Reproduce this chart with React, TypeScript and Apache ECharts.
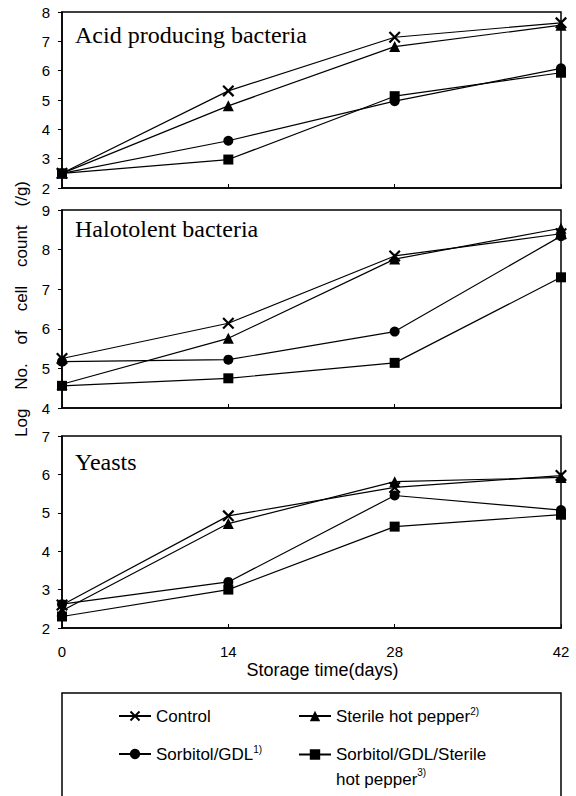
import React, { useEffect, useRef } from "react";
import * as echarts from "echarts";

const days = [0, 14, 28, 42];
const dayTicks = ["0", "14", "28", "42"];
const seriesNames = [
  "Control",
  "Sterile hot pepper",
  "Sorbitol/GDL",
  "Sorbitol/GDL/Sterile hot pepper",
];
const panelTitles = ["Acid producing bacteria", "Halotolent bacteria", "Yeasts"];
const yAxisTitle = "Log    No.    of    cell    count    (/g)";
const xAxisTitle = "Storage time(days)";

// Acid producing bacteria
const acidControl = [2.5, 5.31, 7.14, 7.63];
const acidSterile = [2.5, 4.8, 6.82, 7.55];
const acidSorbitol = [2.5, 3.61, 4.96, 6.08];
const acidSorbitolSterile = [2.5, 2.97, 5.13, 5.93];

// Halotolent bacteria
const haloControl = [5.25, 6.14, 7.84, 8.4];
const haloSterile = [4.6, 5.76, 7.76, 8.54];
const haloSorbitol = [5.17, 5.22, 5.93, 8.34];
const haloSorbitolSterile = [4.56, 4.75, 5.14, 7.3];

// Yeasts
const yeastControl = [2.6, 4.92, 5.66, 5.97];
const yeastSterile = [2.45, 4.72, 5.81, 5.92];
const yeastSorbitol = [2.62, 3.2, 5.45, 5.07];
const yeastSorbitolSterile = [2.3, 3.0, 4.64, 4.95];

const yRanges = [
  [2, 8],
  [4, 9],
  [2, 7],
];

const panelData = [
  [acidControl, acidSterile, acidSorbitol, acidSorbitolSterile],
  [haloControl, haloSterile, haloSorbitol, haloSorbitolSterile],
  [yeastControl, yeastSterile, yeastSorbitol, yeastSorbitolSterile],
];

const X_SYMBOL = "path://M0,1.3L1.3,0L10,8.7L8.7,10ZM8.7,0L10,1.3L1.3,10L0,8.7Z";
const symbols = [X_SYMBOL, "triangle", "circle", "rect"];
const symbolSizes = [12, 11, 10, 10];

const legendLabels: Record<string, string> = {
  Control: "Control",
  "Sterile hot pepper": "Sterile hot pepper{sup|2)}",
  "Sorbitol/GDL": "Sorbitol/GDL{sup|1)}",
  "Sorbitol/GDL/Sterile hot pepper": "Sorbitol/GDL/Sterile\nhot pepper{sup|3)}",
};

export default function App() {
  const ref = useRef<HTMLDivElement>(null);
  useEffect(() => {
    if (!ref.current) return;
    const chart = echarts.init(ref.current, undefined, { renderer: "svg" });

    const grids = [
      { left: 62, right: 15, top: 12, height: 176 },
      { left: 62, right: 15, top: 210, height: 198 },
      { left: 62, right: 15, top: 436, height: 192 },
    ].map((g) => ({
      ...g,
      show: true,
      borderColor: "#000",
      borderWidth: 1.5,
      backgroundColor: "transparent",
    }));

    const sans = "Liberation Sans, Arial, sans-serif";
    const serif = "Liberation Serif, Times New Roman, serif";

    const xAxes = grids.map((_, i) => ({
      type: "value",
      gridIndex: i,
      min: 0,
      max: 42,
      interval: 14,
      axisLine: { show: true, lineStyle: { color: "#000", width: 1.5 } },
      axisTick: { show: true, inside: true, length: 4, lineStyle: { color: "#000", width: 1 } },
      splitLine: { show: false },
      axisLabel: {
        show: i === 2,
        color: "#000",
        fontSize: 15,
        fontFamily: sans,
        margin: 16,
        formatter: (v: number) => dayTicks[days.indexOf(v)] ?? String(v),
      },
      ...(i === 2
        ? {
            name: xAxisTitle,
            nameLocation: "middle",
            nameGap: 33,
            nameTextStyle: {
              color: "#000",
              fontSize: 18,
              fontFamily: sans,
              padding: [0, 0, 0, 22],
            },
          }
        : {}),
    }));

    const yAxes = grids.map((_, i) => ({
      type: "value",
      gridIndex: i,
      min: yRanges[i][0],
      max: yRanges[i][1],
      interval: 1,
      axisLine: { show: true, lineStyle: { color: "#000", width: 1.5 } },
      axisTick: { show: true, inside: false, length: 4, lineStyle: { color: "#000", width: 1 } },
      splitLine: { show: false },
      axisLabel: { color: "#000", fontSize: 15, fontFamily: sans, margin: 12 },
      ...(i === 1
        ? {
            name: yAxisTitle,
            nameLocation: "middle",
            nameGap: 32,
            nameTextStyle: { color: "#000", fontSize: 17, fontFamily: sans },
          }
        : {}),
    }));

    const series: any[] = [];
    panelData.forEach((panel, gi) => {
      panel.forEach((vals, si) => {
        series.push({
          type: "line",
          name: seriesNames[si],
          xAxisIndex: gi,
          yAxisIndex: gi,
          data: days.map((d, k) => [d, vals[k]]),
          symbol: symbols[si],
          symbolSize: symbolSizes[si],
          showAllSymbol: true,
          clip: false,
          lineStyle: { color: "#000", width: 1.2 },
          itemStyle: { color: "#000" },
          z: 3 + si,
        });
      });
    });

    const legendCommon = {
      orient: "horizontal",
      itemWidth: 32,
      itemHeight: 13,
      itemGap: 0,
      padding: 0,
      selectedMode: false,
      formatter: (name: string) => legendLabels[name] ?? name,
    };
    const legendText = (extra: any = {}) => ({
      color: "#000",
      fontSize: 17,
      fontFamily: sans,
      lineHeight: 20,
      rich: {
        sup: { fontSize: 10, fontFamily: sans, verticalAlign: "top", lineHeight: 12, color: "#000" },
      },
      ...extra,
    });

    chart.setOption({
      animation: false,
      backgroundColor: "#fff",
      title: panelTitles.map((t, i) => ({
        text: t,
        left: 75,
        top: [23, 217, 450][i],
        padding: 0,
        textStyle: { color: "#000", fontSize: 24, fontWeight: "normal", fontFamily: serif },
      })),
      grid: grids,
      xAxis: xAxes,
      yAxis: yAxes,
      series,
      legend: [
        { ...legendCommon, data: [seriesNames[0]], left: 118, top: 706, textStyle: legendText() },
        { ...legendCommon, data: [seriesNames[1]], left: 298, top: 706, textStyle: legendText() },
        { ...legendCommon, data: [seriesNames[2]], left: 118, top: 744, textStyle: legendText() },
        {
          ...legendCommon,
          data: [seriesNames[3]],
          left: 298,
          top: 717,
          textStyle: legendText({ lineHeight: 25, padding: [25, 0, 0, 0] }),
        },
      ],
      graphic: [
        {
          type: "rect",
          shape: { x: 62, y: 693, width: 499, height: 120 },
          style: { fill: "none", stroke: "#000", lineWidth: 1.5 },
          silent: true,
        },
      ],
    });
    return () => chart.dispose();
  }, []);
  return (
    <div
      ref={ref}
      style={{ position: "absolute", left: 0, top: 0, width: 576, height: 796, background: "#fff" }}
    />
  );
}
